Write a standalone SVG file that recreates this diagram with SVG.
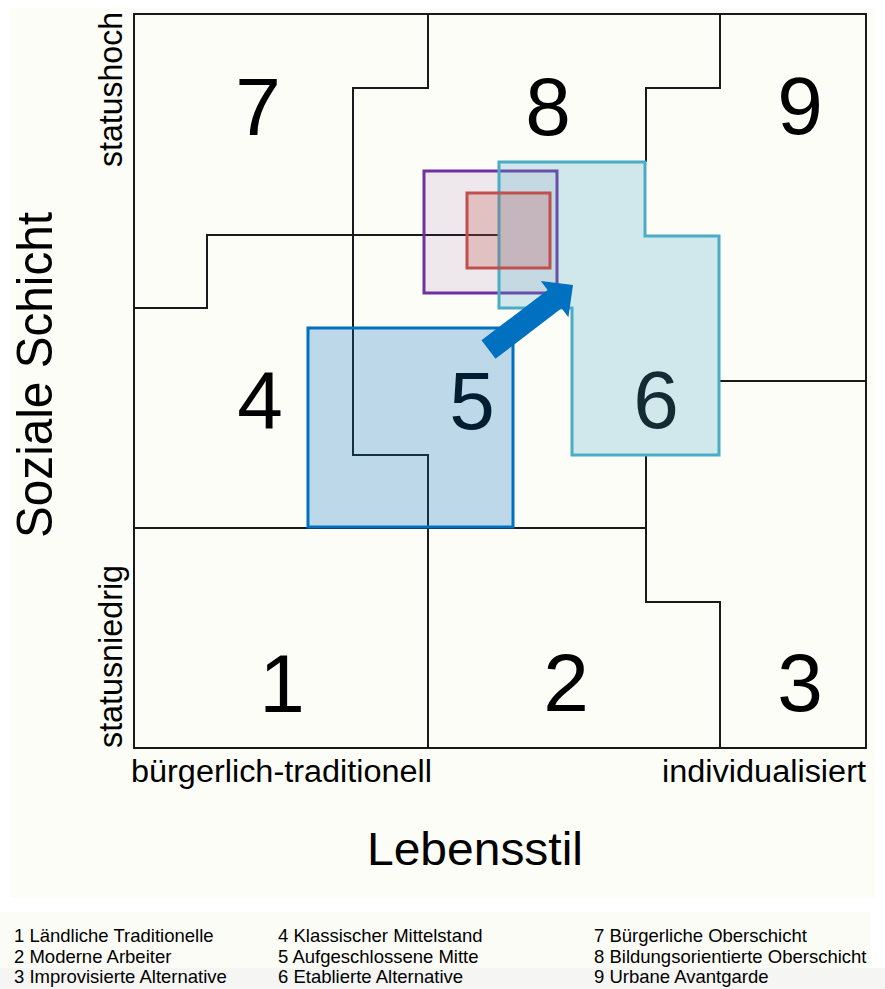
<svg xmlns="http://www.w3.org/2000/svg" width="885" height="989" viewBox="0 0 885 989">
<style>
text{font-family:"Liberation Sans",Arial,sans-serif;fill:#000}
.grid{fill:none;stroke:#1a1a1a;stroke-width:2;stroke-linejoin:miter}
.num{font-size:82px;text-anchor:middle}
.axis{font-size:31px}
.leg{font-size:18.5px}
.ov{stroke-width:3;stroke-linejoin:miter}
</style>
<rect x="0" y="0" width="885" height="989" fill="#ffffff"/>
<rect x="10" y="8" width="865" height="890" fill="#fdfdf7"/>
<rect x="0" y="912" width="870" height="58" fill="#fcfcf7"/>
<rect x="0" y="968" width="885" height="21" fill="#f5f5f3"/>

<g id="numbers">
<text class="num" x="258" y="135">7</text>
<text class="num" x="548" y="135">8</text>
<text class="num" x="800" y="134">9</text>
<text class="num" x="260" y="429">4</text>
<text class="num" x="472" y="429">5</text>
<text class="num" x="656" y="428">6</text>
<text class="num" x="282" y="712">1</text>
<text class="num" x="566" y="711">2</text>
<text class="num" x="800" y="711">3</text>
</g>

<g id="regions">
<rect class="grid" x="134" y="14" width="732" height="734"/>
<path class="grid" d="M428,14 V88 H353 V455 H428 V748"/>
<path class="grid" d="M134,308 H207 V235 H498"/>
<path class="grid" d="M134,528 H646 V455 M646,528 V602 H720 V748"/>
<path class="grid" d="M720,14 V88 H646 V162"/>
<path class="grid" d="M720,381 H866"/>
</g>

<g id="overlay-5">
<rect class="ov" x="308" y="328" width="205" height="199" fill="#0070c0" fill-opacity="0.25" stroke="#0070c0"/>
</g>
<g id="overlay-purple">
<rect class="ov" x="424" y="171" width="133" height="122" fill="#7030a0" fill-opacity="0.1" stroke="#7030a0"/>
</g>
<g id="overlay-6">
<polygon class="ov" points="499,162 645,162 645,236 719,236 719,455 572,455 572,308 499,308" fill="#4bacc6" fill-opacity="0.25" stroke="#4bacc6"/>
</g>
<g id="overlay-red">
<rect class="ov" x="467" y="193" width="83" height="75" fill="#c0504d" fill-opacity="0.26" stroke="#c0504d"/>
</g>

<g id="connectors">
<polygon points="481.5,340.3 547.6,290 540.8,280.9 573,285 568.4,317.2 561.6,308.3 495.5,358.7" fill="#0070c0"/>
</g>

<g id="axes">
<text transform="translate(52,375) rotate(-90)" font-size="50" text-anchor="middle" textLength="326" lengthAdjust="spacingAndGlyphs">Soziale Schicht</text>
<text transform="translate(122,167) rotate(-90)" font-size="33" textLength="155" lengthAdjust="spacingAndGlyphs">statushoch</text>
<text transform="translate(122,748) rotate(-90)" font-size="33" textLength="183" lengthAdjust="spacingAndGlyphs">statusniedrig</text>
<text class="axis" x="131" y="782" textLength="301" lengthAdjust="spacingAndGlyphs">bürgerlich-traditionell</text>
<text class="axis" x="662" y="782" textLength="204" lengthAdjust="spacingAndGlyphs">individualisiert</text>
<text x="367" y="865" font-size="46" textLength="216" lengthAdjust="spacingAndGlyphs">Lebensstil</text>
</g>

<g id="legend">
<text class="leg" x="14" y="942">1 Ländliche Traditionelle</text>
<text class="leg" x="14" y="963">2 Moderne Arbeiter</text>
<text class="leg" x="14" y="983">3 Improvisierte Alternative</text>
<text class="leg" x="278" y="942">4 Klassischer Mittelstand</text>
<text class="leg" x="278" y="963">5 Aufgeschlossene Mitte</text>
<text class="leg" x="278" y="983">6 Etablierte Alternative</text>
<text class="leg" x="594" y="942">7 Bürgerliche Oberschicht</text>
<text class="leg" x="594" y="963">8 Bildungsorientierte Oberschicht</text>
<text class="leg" x="594" y="983">9 Urbane Avantgarde</text>
</g>
</svg>
